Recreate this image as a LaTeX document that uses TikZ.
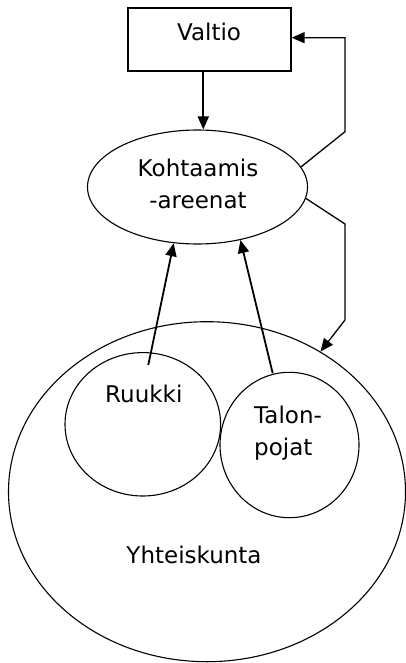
\documentclass[tikz,border=0pt]{standalone}
\usepackage{fontspec}
\setmainfont{DejaVu Sans}
\usetikzlibrary{shapes.geometric,arrows.meta,calc}
\begin{document}
\begin{tikzpicture}[x=1pt,y=-1pt,
  shp/.style={draw=black,line width=1.1pt,inner sep=0pt},
  elli/.style={shp,ellipse},
  lbl/.style={inner sep=0pt,font=\fontsize{23}{32}\selectfont},
  arr/.style={draw=black,line width=1.8pt,-{Triangle[length=13pt,width=11pt]}},
  feed/.style={draw=black,line width=1.3pt,-{Triangle[length=13pt,width=11pt]}}]
\useasboundingbox (0,0) rectangle (406,663);
% shapes
\node[shp,rectangle,minimum width=163pt,minimum height=63pt] (valtio) at (209.5,39.5) {};
\node[elli,minimum width=220pt,minimum height=114pt] (kohta) at (197.5,187) {};
\node[elli,minimum width=397pt,minimum height=340pt] (yht) at (207,491.7) {};
\node[elli,minimum width=155.6pt,minimum height=143.4pt] (ruukki) at (142.8,424.3) {};
\node[elli,minimum width=139pt,minimum height=145.4pt] (talon) at (289.5,445) {};
% texts
\node[lbl,anchor=base] (tvaltio) at (209,41) {Valtio};
\node[lbl,anchor=base,align=center] (tkohta) at (198,208) {Kohtaamis\\-areenat};
\node[lbl,anchor=base] (truukki) at (143.8,402.7) {Ruukki};
\node[lbl,anchor=base west,align=left] (ttalon) at (254,455) {Talon-\\pojat};
\node[lbl,anchor=base] (tyht) at (194,563.3) {Yhteiskunta};
% connectors
\coordinate (vs) at ($(valtio.south)+(-6.2,0)$);
\draw[arr] (vs) -- (vs |- kohta.north);
\coordinate (a1) at (345,131.7);
\coordinate (a2) at (345,37.7);
\draw[feed] (kohta.11.7) -- (a1) -- (a2) -- (a2 -| valtio.east);
\coordinate (b1) at (345,224);
\coordinate (b2) at (345,320);
\draw[feed] (kohta.-6.4) -- (b1) -- (b2) -- (yht.51.1);
\coordinate (rk) at (148.3,365);
\draw[arr] (rk) -- (kohta.-113);
\coordinate (tp) at (272.7,373.3);
\draw[arr] (tp) -- (kohta.-51.6);
\end{tikzpicture}
\end{document}
